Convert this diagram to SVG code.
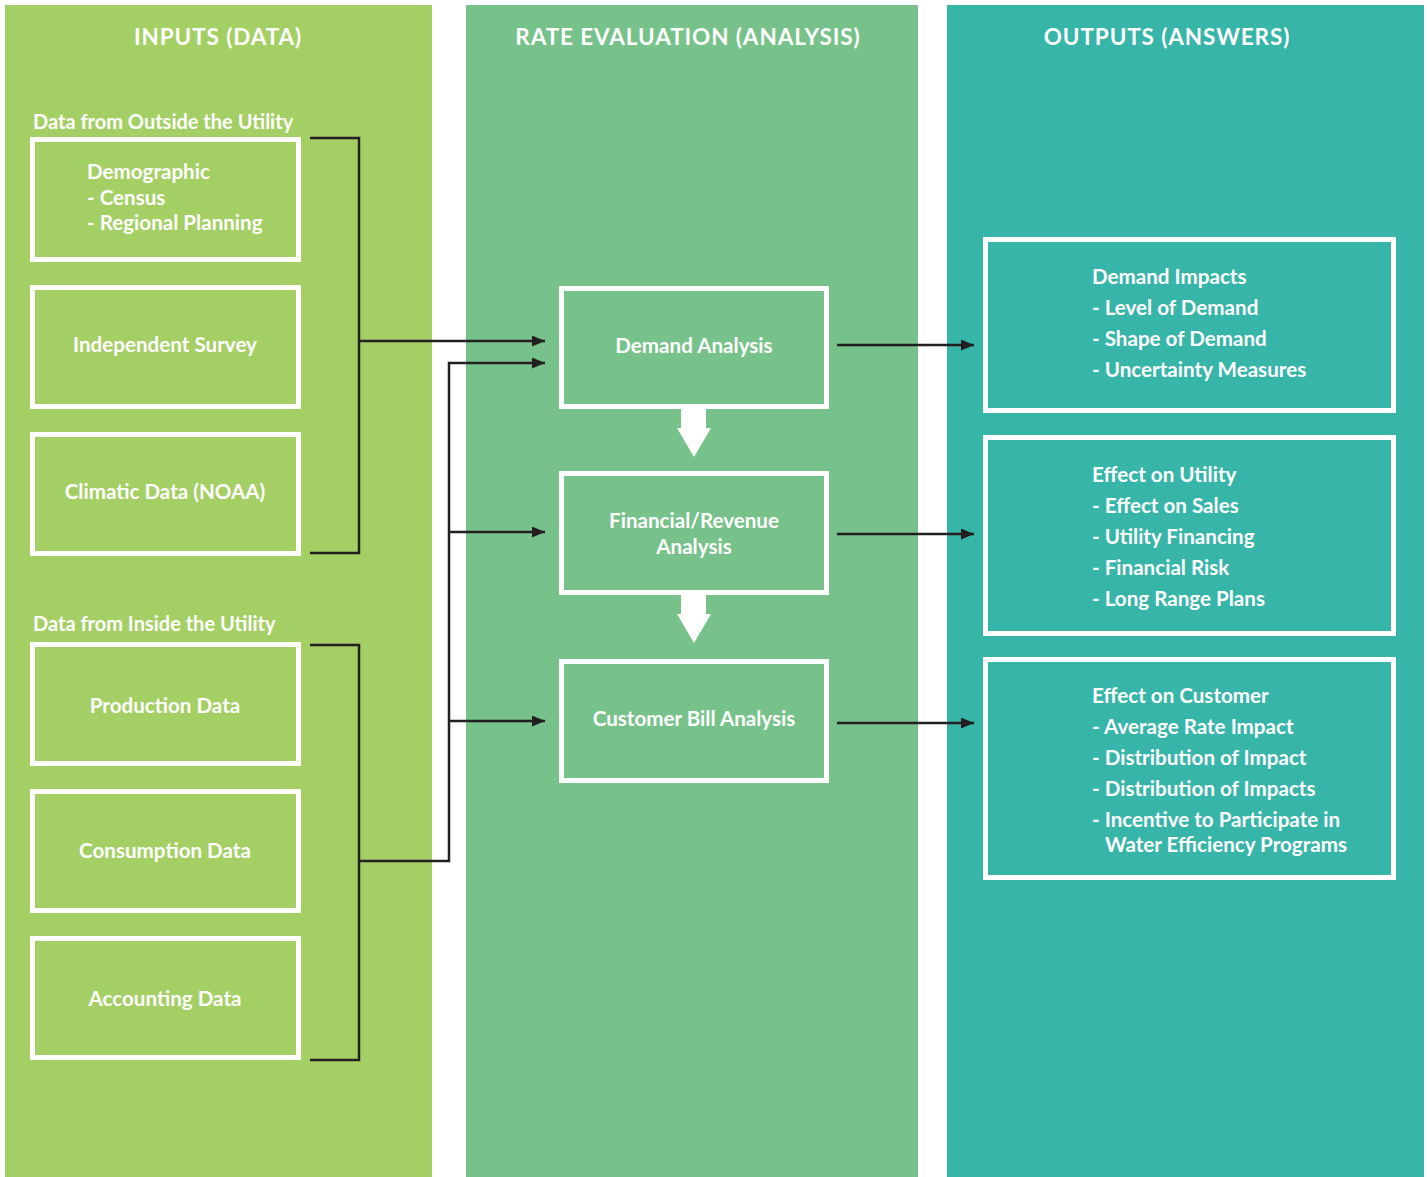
<svg xmlns="http://www.w3.org/2000/svg" width="1427" height="1177" viewBox="0 0 1427 1177">
<defs>
<style>
.col1{fill:#A4CF64}
.col2{fill:#77C28A}
.col3{fill:#36B5A8}
.box{fill:none;stroke:#FFFFFF;stroke-width:5}
text{font-family:Lato,"Open Sans","Liberation Sans",sans-serif;font-weight:700;fill:#FFFFFF;font-size:20.6px}
.hdr{font-size:22.5px;text-anchor:middle;letter-spacing:0.9px}
.c{text-anchor:middle}
.sub{font-size:20px}
.ln{fill:none;stroke:#231F20;stroke-width:2.5}
</style>
<marker id="ah" viewBox="0 0 13 11" refX="13" refY="5.5" markerWidth="13" markerHeight="11" markerUnits="userSpaceOnUse" orient="auto">
<path d="M0,0 L13,5.5 L0,11 Z" fill="#231F20"/>
</marker>
</defs>
<rect width="1427" height="1177" fill="#FFFFFF"/>
<g id="columns">
<rect class="col1" x="5" y="5" width="427" height="1172"/>
<rect class="col2" x="466" y="5" width="452" height="1172"/>
<rect class="col3" x="947" y="5" width="477" height="1172"/>
<text class="hdr" x="218" y="45">INPUTS (DATA)</text>
<text class="hdr" x="688" y="45">RATE EVALUATION (ANALYSIS)</text>
<text class="hdr" x="1167" y="45">OUTPUTS (ANSWERS)</text>
<text class="sub" x="33" y="129">Data from Outside the Utility</text>
<text class="sub" x="33" y="631">Data from Inside the Utility</text>
</g>
<g id="connectors">
<polyline class="ln" points="310,138 359,138 359,553 310,553"/>
<polyline class="ln" points="310,645 359,645 359,1060 310,1060"/>
<line class="ln" x1="359" y1="341" x2="545" y2="341" marker-end="url(#ah)"/>
<polyline class="ln" points="359,861 449,861 449,363 545,363" marker-end="url(#ah)"/>
<line class="ln" x1="449" y1="532" x2="545" y2="532" marker-end="url(#ah)"/>
<line class="ln" x1="449" y1="721" x2="545" y2="721" marker-end="url(#ah)"/>
<line class="ln" x1="837" y1="345" x2="974" y2="345" marker-end="url(#ah)"/>
<line class="ln" x1="837" y1="534" x2="974" y2="534" marker-end="url(#ah)"/>
<line class="ln" x1="837" y1="723" x2="974" y2="723" marker-end="url(#ah)"/>
<path d="M681,409 L706,409 L706,428 L711,428 L694,457 L677,428 L681,428 Z" fill="#FFFFFF"/>
<path d="M681,595 L706,595 L706,614 L711,614 L694,643 L677,614 L681,614 Z" fill="#FFFFFF"/>
</g>
<g id="demographic">
<rect class="box" x="32.5" y="139.5" width="266" height="120"/>
<text x="87" y="179">Demographic</text>
<text x="87" y="205">- Census</text>
<text x="87" y="230">- Regional Planning</text>
</g>
<g id="independent-survey">
<rect class="box" x="32.5" y="287.5" width="266" height="119"/>
<text class="c" x="165" y="352">Independent Survey</text>
</g>
<g id="climatic-data">
<rect class="box" x="32.5" y="434.5" width="266" height="119"/>
<text class="c" x="165" y="499">Climatic Data (NOAA)</text>
</g>
<g id="production-data">
<rect class="box" x="32.5" y="644.5" width="266" height="119"/>
<text class="c" x="165" y="713">Production Data</text>
</g>
<g id="consumption-data">
<rect class="box" x="32.5" y="791.5" width="266" height="119"/>
<text class="c" x="165" y="858">Consumption Data</text>
</g>
<g id="accounting-data">
<rect class="box" x="32.5" y="938.5" width="266" height="119"/>
<text class="c" x="165" y="1006">Accounting Data</text>
</g>
<g id="demand-analysis">
<rect class="box" x="561.5" y="288.5" width="265" height="118"/>
<text class="c" x="694" y="353">Demand Analysis</text>
</g>
<g id="financial-analysis">
<rect class="box" x="561.5" y="473.5" width="265" height="119"/>
<text class="c" x="694" y="528">Financial/Revenue</text>
<text class="c" x="694" y="554">Analysis</text>
</g>
<g id="customer-bill-analysis">
<rect class="box" x="561.5" y="661.5" width="265" height="119"/>
<text class="c" x="694" y="726">Customer Bill Analysis</text>
</g>
<g id="demand-impacts">
<rect class="box" x="985.5" y="239.5" width="408" height="171"/>
<text x="1092" y="284">Demand Impacts</text>
<text x="1092" y="315">- Level of Demand</text>
<text x="1092" y="346">- Shape of Demand</text>
<text x="1092" y="377">- Uncertainty Measures</text>
</g>
<g id="effect-on-utility">
<rect class="box" x="985.5" y="437.5" width="408" height="196"/>
<text x="1092" y="482">Effect on Utility</text>
<text x="1092" y="513">- Effect on Sales</text>
<text x="1092" y="544">- Utility Financing</text>
<text x="1092" y="575">- Financial Risk</text>
<text x="1092" y="606">- Long Range Plans</text>
</g>
<g id="effect-on-customer">
<rect class="box" x="985.5" y="659.5" width="408" height="218"/>
<text x="1092" y="703">Effect on Customer</text>
<text x="1092" y="734">- Average Rate Impact</text>
<text x="1092" y="765">- Distribution of Impact</text>
<text x="1092" y="796">- Distribution of Impacts</text>
<text x="1092" y="827">- Incentive to Participate in</text>
<text x="1105" y="852">Water Efficiency Programs</text>
</g>
</svg>
